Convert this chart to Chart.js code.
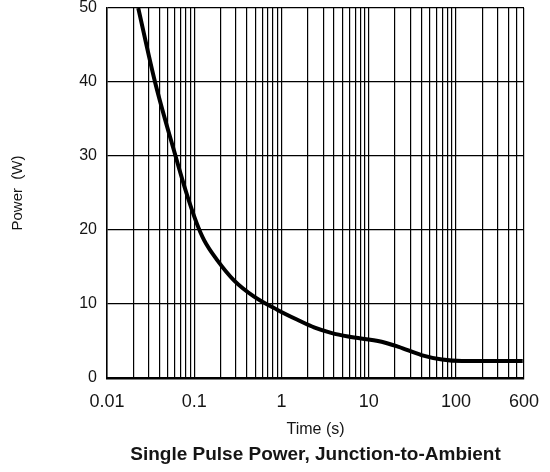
<!DOCTYPE html>
<html>
<head>
<meta charset="utf-8">
<script src="https://cdn.jsdelivr.net/npm/chart.js@4"></script>
<style>
  body { margin: 0; background: #fff; }
  #wrap { width: 550px; height: 472px; }
</style>
</head>
<body>
<div id="wrap"><canvas id="myChart" width="550" height="472"></canvas></div>
<script>
// values
var timeValues  = [0.0228, 0.0355, 0.061, 0.0813, 0.106, 0.13, 0.184, 0.285, 0.485, 0.9, 1.5, 2.4, 3.7, 5.8, 14, 22, 40, 69, 117, 580]
var powerValues = [50, 40, 30, 25, 21, 18.6, 15.9, 13.2, 11.0, 9.2, 7.9, 6.8, 6.1, 5.6, 4.9, 4.2, 3.1, 2.5, 2.3, 2.3]

var xTickLabels = [0.01, 0.1, 1, 10, 100, 600]
var yTickLabels = [0, 10, 20, 30, 40, 50]

var FONT = "'Liberation Sans', Arial, sans-serif"
var TEXT = '#151515'

// gridline positions 1..9 x each decade, up to 600
function logGridValues() {
  var vals = []
  for (var e = -2; e <= 2; e++) {
    for (var m = 1; m <= 9; m++) {
      var v = parseFloat((m * Math.pow(10, e)).toPrecision(6))
      if (v <= 600) vals.push(v)
    }
  }
  return vals
}

var points = timeValues.map(function (t, i) {
  return { x: t, y: powerValues[i] }
})

var ctx = document.getElementById('myChart').getContext('2d')
var chart = new Chart(ctx, {
  type: 'line',
  data: {
    datasets: [{
      label: 'Single Pulse Power',
      data: points,
      borderColor: '#000',
      borderWidth: 4,
      pointRadius: 0,
      fill: false,
      cubicInterpolationMode: 'monotone'
    }]
  },
  options: {
    responsive: false,
    animation: false,
    layout: { padding: { top: 8, right: 26, left: 0, bottom: 0 } },
    plugins: {
      legend: { display: false },
      tooltip: { enabled: false },
      title: {
        display: true,
        position: 'bottom',
        fullSize: false,
        text: 'Single Pulse Power, Junction-to-Ambient',
        color: TEXT,
        font: { family: FONT, size: 19, weight: 'bold', lineHeight: 1.2 },
        padding: { top: 0, bottom: 6 }
      }
    },
    scales: {
      x: {
        type: 'logarithmic',
        min: 0.01,
        max: 600,
        afterBuildTicks: function (scale) {
          scale.ticks = logGridValues().map(function (v) { return { value: v } })
        },
        afterFit: function (scale) {
          scale.height = 65.2
          scale.paddingLeft = 0
          scale.paddingRight = 0
        },
        ticks: {
          autoSkip: false,
          maxRotation: 0,
          padding: 13,
          color: TEXT,
          font: { family: FONT, size: 18 },
          callback: function (value) {
            return xTickLabels.indexOf(value) >= 0 ? String(value) : ''
          }
        },
        grid: { color: '#000', lineWidth: 1.2, drawTicks: false },
        border: { display: true, color: '#000', width: 2.5 },
        title: {
          display: true,
          text: 'Time (s)',
          color: TEXT,
          font: { family: FONT, size: 16, lineHeight: 1.2 },
          padding: { top: 0, bottom: 4 }
        }
      },
      y: {
        min: 0,
        max: 50,
        afterBuildTicks: function (scale) {
          scale.ticks = yTickLabels.map(function (v) { return { value: v } })
        },
        afterFit: function (scale) {
          scale.width = 107
          scale.paddingTop = 0
          scale.paddingBottom = 0
        },
        ticks: {
          padding: 10,
          color: TEXT,
          font: { family: FONT, size: 16 }
        },
        grid: { color: '#000', lineWidth: 1.2, drawTicks: false },
        border: { display: true, color: '#000', width: 1.5 },
        title: {
          display: true,
          text: 'Power  (W)',
          color: TEXT,
          font: { family: FONT, size: 15, lineHeight: 1.2 },
          padding: { top: 9, bottom: 0 }
        }
      }
    }
  }
})
</script>
</body>
</html>
